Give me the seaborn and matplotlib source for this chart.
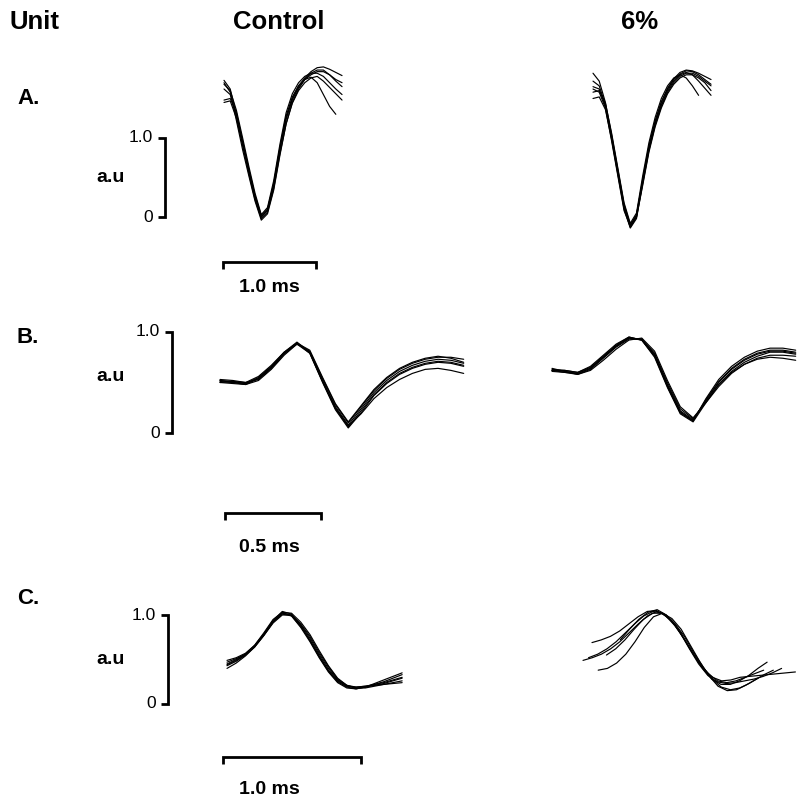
import numpy as np
import pandas as pd
import matplotlib
matplotlib.use("Agg")
import matplotlib.pyplot as plt
import seaborn as sns

sns.set_theme(style="white")
plt.rcParams['font.family'] = ['Liberation Sans', 'DejaVu Sans']
plt.rcParams['text.color'] = 'black'

# ---------------- data (ms sampling interval, a.u. amplitudes) ----------------
DT = 0.0668  # ms between samples

nan = np.nan

# Unit A, control
A_control = [
    [1.73, 1.62, 1.30, 0.92, 0.58, 0.25, 0.00, 0.08, 0.40, 0.86, 1.25, 1.50, 1.66, 1.76, 1.84, 1.89, 1.90, 1.87, 1.83, 1.79],
    [1.45, 1.47, 1.25, 0.90, 0.55, 0.22, -0.02, 0.06, 0.36, 0.80, 1.18, 1.44, 1.60, 1.70, 1.76, 1.78, 1.72, 1.64, 1.56, 1.48],
    [1.62, 1.55, 1.28, 0.95, 0.60, 0.27, 0.02, 0.10, 0.42, 0.88, 1.28, 1.52, 1.66, 1.74, 1.77, 1.70, 1.55, 1.40, 1.30, nan],
    [1.70, 1.58, 1.22, 0.85, 0.52, 0.20, -0.04, 0.04, 0.34, 0.78, 1.18, 1.45, 1.62, 1.74, 1.82, 1.86, 1.86, 1.80, 1.72, 1.65],
    [1.68, 1.60, 1.35, 1.00, 0.64, 0.30, 0.03, 0.12, 0.46, 0.92, 1.32, 1.56, 1.70, 1.78, 1.82, 1.82, 1.78, 1.70, 1.62, 1.55],
    [1.48, 1.50, 1.32, 0.96, 0.60, 0.26, 0.00, 0.09, 0.42, 0.86, 1.24, 1.48, 1.64, 1.74, 1.80, 1.84, 1.84, 1.80, 1.74, 1.70],
]
# Unit A, 6%
A_6pct = [
    [1.82, 1.72, 1.45, 1.04, 0.60, 0.16, -0.10, 0.02, 0.48, 0.90, 1.22, 1.46, 1.62, 1.74, 1.81, 1.85, 1.84, 1.80, 1.74, 1.68],
    [1.65, 1.62, 1.40, 1.00, 0.56, 0.12, -0.13, 0.00, 0.44, 0.86, 1.18, 1.42, 1.60, 1.72, 1.80, 1.83, 1.80, 1.72, 1.63, 1.54],
    [1.58, 1.60, 1.44, 1.06, 0.62, 0.18, -0.08, 0.05, 0.52, 0.94, 1.26, 1.50, 1.66, 1.76, 1.80, 1.76, 1.66, 1.54, nan, nan],
    [1.50, 1.52, 1.36, 0.98, 0.54, 0.10, -0.14, -0.02, 0.42, 0.84, 1.16, 1.40, 1.58, 1.70, 1.78, 1.82, 1.82, 1.78, 1.72, 1.66],
    [1.72, 1.66, 1.42, 1.02, 0.58, 0.14, -0.11, 0.03, 0.46, 0.88, 1.20, 1.45, 1.63, 1.75, 1.83, 1.86, 1.85, 1.82, 1.78, 1.74],
    [1.62, 1.58, 1.38, 0.96, 0.52, 0.08, -0.12, 0.00, 0.40, 0.82, 1.14, 1.38, 1.56, 1.68, 1.76, 1.80, 1.80, 1.76, 1.70, 1.60],
]
# Unit B, control
B_control = [
    [0.51, 0.50, 0.49, 0.54, 0.65, 0.79, 0.89, 0.80, 0.52, 0.26, 0.08, 0.24, 0.40, 0.52, 0.61, 0.67, 0.71, 0.73, 0.72, 0.69],
    [0.53, 0.52, 0.50, 0.56, 0.67, 0.80, 0.89, 0.79, 0.50, 0.23, 0.05, 0.20, 0.37, 0.49, 0.58, 0.64, 0.68, 0.70, 0.69, 0.66],
    [0.50, 0.49, 0.48, 0.52, 0.63, 0.77, 0.88, 0.81, 0.54, 0.28, 0.10, 0.26, 0.42, 0.54, 0.63, 0.69, 0.73, 0.75, 0.75, 0.73],
    [0.52, 0.51, 0.49, 0.55, 0.66, 0.80, 0.90, 0.80, 0.51, 0.24, 0.07, 0.19, 0.34, 0.45, 0.53, 0.59, 0.63, 0.64, 0.62, 0.59],
    [0.50, 0.51, 0.50, 0.53, 0.64, 0.78, 0.89, 0.82, 0.55, 0.29, 0.11, 0.27, 0.43, 0.55, 0.64, 0.70, 0.74, 0.76, 0.74, 0.70],
    [0.52, 0.50, 0.48, 0.54, 0.65, 0.79, 0.88, 0.79, 0.51, 0.25, 0.06, 0.22, 0.38, 0.50, 0.59, 0.65, 0.69, 0.71, 0.70, 0.67],
]
# Unit B, 6%
B_6pct = [
    [0.62, 0.61, 0.59, 0.64, 0.75, 0.86, 0.94, 0.93, 0.78, 0.48, 0.22, 0.13, 0.32, 0.50, 0.63, 0.72, 0.78, 0.81, 0.81, 0.79],
    [0.63, 0.62, 0.60, 0.66, 0.77, 0.88, 0.95, 0.92, 0.75, 0.45, 0.19, 0.11, 0.30, 0.48, 0.61, 0.70, 0.76, 0.80, 0.80, 0.78],
    [0.61, 0.60, 0.58, 0.62, 0.72, 0.83, 0.92, 0.94, 0.81, 0.52, 0.26, 0.15, 0.30, 0.46, 0.59, 0.68, 0.74, 0.77, 0.77, 0.76],
    [0.62, 0.62, 0.60, 0.65, 0.76, 0.87, 0.95, 0.92, 0.76, 0.46, 0.20, 0.12, 0.34, 0.53, 0.66, 0.75, 0.81, 0.84, 0.84, 0.82],
    [0.64, 0.61, 0.58, 0.63, 0.74, 0.85, 0.93, 0.93, 0.79, 0.50, 0.24, 0.14, 0.31, 0.48, 0.60, 0.68, 0.73, 0.75, 0.74, 0.72],
    [0.62, 0.60, 0.59, 0.64, 0.75, 0.86, 0.94, 0.92, 0.77, 0.47, 0.21, 0.12, 0.33, 0.51, 0.64, 0.73, 0.79, 0.82, 0.82, 0.80],
]
# Unit C, control
C_control = [
    [0.45, 0.50, 0.56, 0.65, 0.78, 0.93, 1.02, 1.00, 0.89, 0.74, 0.56, 0.40, 0.27, 0.20, 0.18, 0.19, 0.21, 0.23, 0.26, 0.29],
    [0.40, 0.46, 0.54, 0.64, 0.77, 0.92, 1.03, 1.02, 0.92, 0.78, 0.60, 0.43, 0.29, 0.21, 0.18, 0.18, 0.20, 0.22, 0.24, 0.26],
    [0.49, 0.52, 0.57, 0.66, 0.79, 0.94, 1.04, 1.01, 0.88, 0.71, 0.53, 0.37, 0.25, 0.19, 0.17, 0.19, 0.22, 0.25, 0.29, 0.33],
    [0.43, 0.48, 0.55, 0.65, 0.78, 0.92, 1.01, 0.99, 0.87, 0.72, 0.54, 0.38, 0.26, 0.20, 0.19, 0.20, 0.21, 0.22, 0.23, 0.24],
    [0.47, 0.51, 0.56, 0.66, 0.80, 0.95, 1.03, 0.99, 0.86, 0.70, 0.52, 0.36, 0.24, 0.18, 0.17, 0.19, 0.23, 0.27, 0.31, 0.35],
    [0.44, 0.49, 0.55, 0.64, 0.77, 0.91, 1.00, 1.00, 0.90, 0.76, 0.58, 0.42, 0.28, 0.21, 0.19, 0.20, 0.22, 0.24, 0.27, 0.30],
]
# Unit C, 6% (traces start at slightly different times)
C_6pct_onsets = [0.00, 0.065, 0.11, 0.27, 0.17, 0.04]  # ms
C_6pct = [
    [0.49, 0.52, 0.56, 0.62, 0.70, 0.80, 0.90, 0.99, 1.04, 1.00, 0.90, 0.76, 0.58, 0.42, 0.28, 0.19, 0.16, 0.18, 0.23, 0.29],
    [0.69, 0.72, 0.76, 0.82, 0.90, 0.98, 1.04, 1.05, 0.99, 0.88, 0.73, 0.56, 0.40, 0.28, 0.22, 0.22, 0.26, 0.32, 0.40, 0.47],
    [0.38, 0.40, 0.46, 0.56, 0.70, 0.86, 0.98, 1.02, 0.96, 0.84, 0.66, 0.48, 0.32, 0.20, 0.15, 0.16, 0.21, 0.27, 0.33, 0.38],
    [0.72, 0.84, 0.95, 1.03, 1.06, 1.00, 0.88, 0.72, 0.55, 0.40, 0.30, 0.26, 0.27, 0.30, 0.31, 0.32, 0.33, 0.34, 0.35, 0.36],
    [0.55, 0.62, 0.72, 0.84, 0.95, 1.02, 1.02, 0.94, 0.80, 0.62, 0.45, 0.32, 0.25, 0.23, 0.24, 0.26, 0.28, 0.31, 0.35, 0.40],
    [0.52, 0.56, 0.62, 0.70, 0.80, 0.90, 0.99, 1.04, 1.02, 0.94, 0.80, 0.62, 0.46, 0.34, 0.26, 0.24, 0.26, 0.30, 0.34, 0.38],
]

row_labels = ["A.", "B.", "C."]
col_labels = ["Control", "6%"]
scale_amp = [1.0, 1.0, 1.0]          # a.u. of vertical scale bars
scale_time = [1.0, 0.5, 1.0]         # ms of horizontal scale bars
scale_time_labels = ["1.0 ms", "0.5 ms", "1.0 ms"]

# ---------------- layout (pixels) ----------------
W, H = 804, 798
fig = plt.figure(figsize=(W / 100, H / 100), dpi=100)
fig.patch.set_facecolor("white")

# per row: zero-level y, px per a.u., px per ms, control origin x, 6% origin x
rows_geom = [
    dict(y0=217, sy=79, sx=93, xc=224, xp=593, vbx=165, hbx=223, hby=262, lab_y=98, au_y=178, ms_y=288),
    dict(y0=433, sy=101, sx=192, xc=220, xp=552, vbx=172, hbx=225, hby=513, lab_y=338, au_y=377, ms_y=548),
    dict(y0=704, sy=89, sx=138, xc=227, xp=583, vbx=168, hbx=223, hby=757, lab_y=598, au_y=660, ms_y=790),
]
data = [(A_control, A_6pct, None), (B_control, B_6pct, None), (C_control, C_6pct, C_6pct_onsets)]


def fx(x):
    return x / W


def fy(y):
    return 1 - y / H


def panel_axes(x0, y0, sx, sy):
    ax = fig.add_axes([0, 0, 1, 1])
    ax.set_axis_off()
    ax.patch.set_alpha(0)
    return ax, (-x0 / sx, (W - x0) / sx), ((y0 - H) / sy, y0 / sy)


def draw_traces(ax, traces, onsets=None):
    recs = []
    for k, tr in enumerate(traces):
        t0 = 0.0 if onsets is None else onsets[k]
        for i, v in enumerate(tr):
            if not np.isnan(v):
                recs.append((k, t0 + i * DT, v))
    df = pd.DataFrame(recs, columns=["trace", "t", "v"])
    sns.lineplot(data=df, x="t", y="v", units="trace", estimator=None,
                 color="black", lw=0.85, ax=ax, legend=False, sort=False)


BAR_LW = 2.0
for r, (g, (ctl, pct, onsets)) in enumerate(zip(rows_geom, data)):
    for x0, traces, ons in ((g["xc"], ctl, None), (g["xp"], pct, onsets)):
        ax, xl, yl = panel_axes(x0, g["y0"], g["sx"], g["sy"])
        draw_traces(ax, traces, ons)
        ax.set_xlim(*xl)
        ax.set_ylim(*yl)
        ax.set_axis_off()
        if x0 == g["xc"]:
            sx, sy = g["sx"], g["sy"]
            # vertical amplitude scale bar
            xv = (g["vbx"] - x0) / sx
            tk = 7 / sx
            ax.plot([xv - tk, xv, xv, xv - tk], [scale_amp[r], scale_amp[r], 0, 0],
                    color="black", lw=BAR_LW, solid_joinstyle="miter", solid_capstyle="butt")
            ax.text(xv - 12 / sx, scale_amp[r], "1.0", ha="right", va="center", fontsize=12.5)
            ax.text(xv - 12 / sx, 0, "0", ha="right", va="center", fontsize=12.5)
            # horizontal time scale bar
            xh = (g["hbx"] - x0) / sx
            yh = (g["y0"] - g["hby"]) / sy
            dn = 7 / sy
            ax.plot([xh, xh, xh + scale_time[r], xh + scale_time[r]], [yh - dn, yh, yh, yh - dn],
                    color="black", lw=BAR_LW, solid_joinstyle="miter", solid_capstyle="butt")

    fig.text(fx(17), fy(g["lab_y"]), row_labels[r], ha="left", va="center",
             fontsize=16, fontweight="bold")
    fig.text(fx(111), fy(g["au_y"]), "a.u", ha="center", va="center",
             fontsize=14, fontweight="bold")
    fig.text(fx(269), fy(g["ms_y"]), scale_time_labels[r], ha="center", va="center",
             fontsize=14, fontweight="bold")

fig.text(fx(10), fy(22), "Unit", ha="left", va="center", fontsize=18.5, fontweight="bold")
fig.text(fx(279), fy(22), col_labels[0], ha="center", va="center", fontsize=18.5, fontweight="bold")
fig.text(fx(640), fy(22), col_labels[1], ha="center", va="center", fontsize=18.5, fontweight="bold")

fig.savefig("out.png", dpi=100, facecolor="white")
